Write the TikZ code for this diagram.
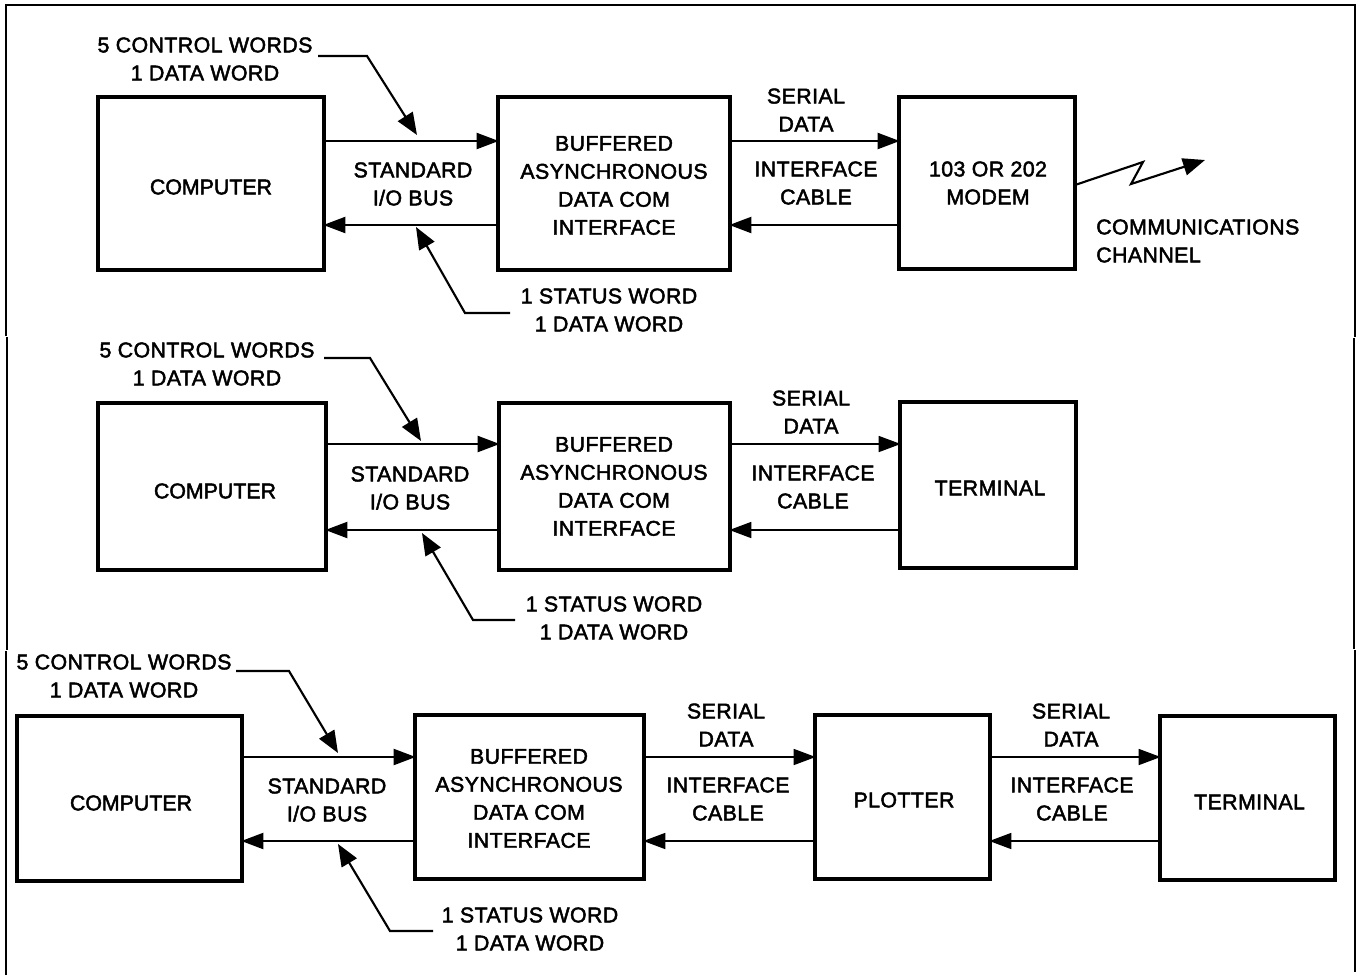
\documentclass[tikz,border=0pt]{standalone}
\usepackage{fontspec}
\setmainfont[FakeBold=2.2,LetterSpace=2]{Liberation Sans}
\usetikzlibrary{arrows.meta}
\tikzset{
  blockbox/.style={draw=black,line width=3pt,fill=white,anchor=center,inner sep=0pt,outer sep=0pt},
  txt/.style={align=center,inner sep=3pt,font=\fontsize{16}{21}\selectfont,text=black},
  tightxt/.style={txt,font=\fontsize{16}{21}\selectfont\addfontfeatures{LetterSpace=0}},
  bus/.style={draw=black,line width=1.6pt,-{Triangle[length=16.5pt,width=12pt]},shorten >=-0.5pt},
  thin bus/.style={bus,line width=1.2pt},
  lead/.style={draw=black,line width=1.6pt,-{Triangle[length=16.5pt,width=13pt]},line join=miter},
  frameline/.style={draw=black,line width=1.9pt}
}
\begin{document}
\begin{tikzpicture}[x=0.75pt,y=-0.75pt]
\useasboundingbox (0,0) rectangle (1360,975);
\fill[white] (0,0) rectangle (1360,975);
% frame
\coordinate (f0) at (6,975);
\coordinate (f1) at (6,651);
\coordinate (f2) at (7,650);
\coordinate (f3) at (7,337);
\coordinate (f3b) at (6,336);
\coordinate (f4) at (6,5);
\coordinate (f5) at (1355,5);
\coordinate (f6) at (1355,337);
\coordinate (f6b) at (1354,338);
\coordinate (f7) at (1354,649);
\coordinate (f7b) at (1355,650);
\coordinate (f8) at (1355,972);
\draw[frameline] (f0) -- (f1);
\draw[frameline] (f2) -- (f3);
\draw[frameline] (f3b) -- (f4) -- (f5) -- (f6);
\draw[frameline] (f6b) -- (f7);
\draw[frameline] (f7b) -- (f8);
% boxes
\def\bx#1#2#3#4#5{\node[blockbox,minimum width={(#4-#2)*0.75pt},minimum height={(#5-#3)*0.75pt}] (#1) at ({(#2+#4)/2},{(#3+#5)/2}) {};}
\bx{c1}{98}{97}{324}{270}
\bx{i1}{498}{97}{730}{270}
\bx{m1}{899}{97}{1075}{269}
\bx{c2}{98}{403}{326}{570}
\bx{i2}{499}{403}{730}{570}
\bx{t2}{900}{402}{1076}{568}
\bx{c3}{17}{716}{242}{881}
\bx{i3}{415}{715}{644}{879}
\bx{p3}{815}{715}{990}{879}
\bx{t3}{1160}{716}{1335}{880}
% text
\node[tightxt] (c1t) at (211,187) {COMPUTER};
\node[tightxt] (c2t) at (215,491) {COMPUTER};
\node[tightxt] (c3t) at (131,803) {COMPUTER};
\node[txt] (i1t) at (614,185.5) {BUFFERED\\ASYNCHRONOUS\\DATA COM\\INTERFACE};
\node[txt] (i2t) at (614,486.5) {BUFFERED\\ASYNCHRONOUS\\DATA COM\\INTERFACE};
\node[txt] (i3t) at (529,798.5) {BUFFERED\\ASYNCHRONOUS\\DATA COM\\INTERFACE};
\node[txt] (m1t) at (988,183) {103 OR 202\\MODEM};
\node[txt] (t2t) at (990,488) {TERMINAL};
\node[txt] (p3t) at (904,800) {PLOTTER};
\node[txt] (t3t) at (1249.5,802) {TERMINAL};
\node[txt] (s1) at (413,184) {STANDARD\\I/O BUS};
\node[txt] (s2) at (410,488) {STANDARD\\I/O BUS};
\node[txt] (s3) at (327,800) {STANDARD\\I/O BUS};
\node[txt] (d1) at (806,110) {SERIAL\\DATA};
\node[txt] (d2) at (811,412) {SERIAL\\DATA};
\node[txt] (d3) at (726,725) {SERIAL\\DATA};
\node[txt] (d4) at (1071,725) {SERIAL\\DATA};
\node[txt] (e1) at (816,183) {INTERFACE\\CABLE};
\node[txt] (e2) at (813,487) {INTERFACE\\CABLE};
\node[txt] (e3) at (728,799) {INTERFACE\\CABLE};
\node[txt] (e4) at (1072,799) {INTERFACE\\CABLE};
\node[txt] (u1) at (205,59) {5 CONTROL WORDS\\1 DATA WORD};
\node[txt] (u2) at (207,364) {5 CONTROL WORDS\\1 DATA WORD};
\node[txt] (u3) at (124,676) {5 CONTROL WORDS\\1 DATA WORD};
\node[txt] (w1) at (609,310) {1 STATUS WORD\\1 DATA WORD};
\node[txt] (w2) at (614,618) {1 STATUS WORD\\1 DATA WORD};
\node[txt] (w3) at (530,929) {1 STATUS WORD\\1 DATA WORD};
\node[txt,align=left,anchor=west,inner sep=0pt] (ch) at (1096,241) {COMMUNICATIONS\\CHANNEL};
% levels
\coordinate (a1) at (0,141); \coordinate (b1) at (0,225);
\coordinate (a2) at (0,444); \coordinate (b2) at (0,530);
\coordinate (a3) at (0,757); \coordinate (b3) at (0,841);
% bus connectors
\draw[bus] (c1.east |- a1) -- (i1.west |- a1);
\draw[bus] (i1.west |- b1) -- (c1.east |- b1);
\draw[bus] (i1.east |- a1) -- (m1.west |- a1);
\draw[bus] (m1.west |- b1) -- (i1.east |- b1);
\draw[bus] (c2.east |- a2) -- (i2.west |- a2);
\draw[bus] (i2.west |- b2) -- (c2.east |- b2);
\draw[thin bus] (i2.east |- a2) -- (t2.west |- a2);
\draw[thin bus] (t2.west |- b2) -- (i2.east |- b2);
\draw[bus] (c3.east |- a3) -- (i3.west |- a3);
\draw[bus] (i3.west |- b3) -- (c3.east |- b3);
\draw[thin bus] (i3.east |- a3) -- (p3.west |- a3);
\draw[thin bus] (p3.west |- b3) -- (i3.east |- b3);
\draw[thin bus] (p3.east |- a3) -- (t3.west |- a3);
\draw[thin bus] (t3.west |- b3) -- (p3.east |- b3);
% leaders
\coordinate (k1a) at (318,56); \coordinate (k1b) at (367,56); \coordinate (k1c) at (417,135);
\coordinate (k2a) at (324,358); \coordinate (k2b) at (370,358); \coordinate (k2c) at (421,441);
\coordinate (k3a) at (236,671); \coordinate (k3b) at (289,671); \coordinate (k3c) at (338,753);
\coordinate (q1a) at (510,313); \coordinate (q1b) at (465,313); \coordinate (q1c) at (416,227);
\coordinate (q2a) at (515,620); \coordinate (q2b) at (473,620); \coordinate (q2c) at (422,533);
\coordinate (q3a) at (433,931); \coordinate (q3b) at (390,931); \coordinate (q3c) at (338,844);
\draw[lead] (k1a) -- (k1b) -- (k1c);
\draw[lead] (k2a) -- (k2b) -- (k2c);
\draw[lead] (k3a) -- (k3b) -- (k3c);
\draw[lead] (q1a) -- (q1b) -- (q1c);
\draw[lead] (q2a) -- (q2b) -- (q2c);
\draw[lead] (q3a) -- (q3b) -- (q3c);
% lightning
\coordinate (z0) at (0,185); \coordinate (z1) at (1143,162); \coordinate (z2) at (1131,184); \coordinate (z3) at (1205,160);
\draw[lead] (m1.east |- z0) -- (z1) -- (z2) -- (z3);
\end{tikzpicture}
\end{document}
